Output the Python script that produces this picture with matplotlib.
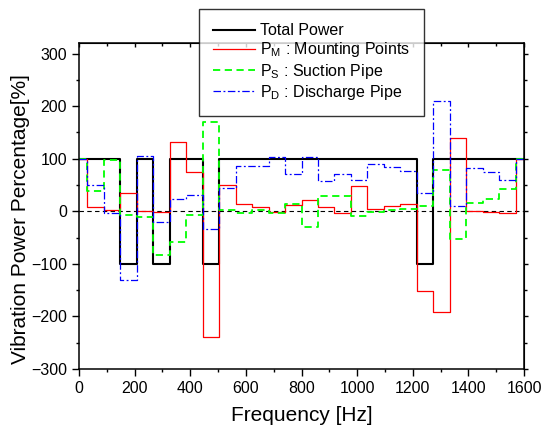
import numpy as np
import matplotlib
matplotlib.use("Agg")
from matplotlib import pyplot as plt
from matplotlib.ticker import MultipleLocator

plt.rcParams['font.family'] = ['Liberation Sans', 'DejaVu Sans']
plt.rcParams['mathtext.fontset'] = 'custom'
plt.rcParams['mathtext.rm'] = 'Liberation Sans'

# band centre frequencies (28 bands, 0..1600 Hz)
freq = np.linspace(0, 1600, 28)

total = [100, 100, 100, -100, 100, -100, 100, 100, -100,
         100, 100, 100, 100, 100, 100, 100, 100, 100, 100, 100, 100,
         -100, 100, 100, 100, 100, 100, 100]
p_m = [100, 9, 3, 34, 1, -1, 131, 74, -239, 50, 14, 8, -2, 12, 22, 9, -4,
       48, 4, 10, 13, -151, -192, 139, 0, -1, -4, 100]
p_s = [100, 38, 97, -8, -10, -83, -58, -8, 170, 3, -3, 2, -4, 13, -30, 29, 29,
       -9, -1, 2, 5, 10, 79, -53, 15, 23, 42, 100]
p_d = [100, 49, -3, -131, 105, -20, 23, 31, -34, 44, 86, 86, 103, 71, 103, 57,
       70, 59, 90, 84, 77, 35, 210, 10, 82, 75, 60, 100]

fig = plt.figure(figsize=(5.42, 4.29), dpi=100)
ax = fig.add_axes([79/542, 1-369/429, 445/542, 326/429])

ax.axhline(0, color='k', lw=0.8, dashes=(4, 3), zorder=1)
ax.plot(freq, total, drawstyle='steps-mid', color='k', lw=1.5, label='Total Power')
ax.plot(freq, p_m, drawstyle='steps-mid', color='#ff0000', lw=0.9,
        label=r'P$_\mathregular{M}$ : Mounting Points')
ax.plot(freq, p_s, drawstyle='steps-mid', color='#00ff00', lw=1.3, dashes=(4, 2.5),
        label=r'P$_\mathregular{S}$ : Suction Pipe')
ax.plot(freq, p_d, drawstyle='steps-mid', color='#0000ff', lw=0.9,
        dashes=(6, 2, 1.5, 2), label=r'P$_\mathregular{D}$ : Discharge Pipe')

ax.set_xlim(0, 1600)
ax.set_ylim(-300, 320)
ax.xaxis.set_major_locator(MultipleLocator(200))
ax.xaxis.set_minor_locator(MultipleLocator(100))
ax.yaxis.set_major_locator(MultipleLocator(100))
ax.yaxis.set_minor_locator(MultipleLocator(50))
ax.tick_params(which='both', direction='out', width=1, labelsize=11.5)
ax.tick_params(which='major', length=5)
ax.tick_params(which='minor', length=2.5)
for s in ax.spines.values():
    s.set_linewidth(1.1)

top = ax.secondary_xaxis('top')
top.xaxis.set_major_locator(MultipleLocator(200))
top.xaxis.set_minor_locator(MultipleLocator(100))
top.tick_params(which='both', direction='in', labeltop=False, width=1)
top.tick_params(which='major', length=3)
top.tick_params(which='minor', length=2)
right = ax.secondary_yaxis('right')
right.yaxis.set_major_locator(MultipleLocator(100))
right.yaxis.set_minor_locator(MultipleLocator(50))
right.tick_params(which='both', direction='out', labelright=False, width=1)
right.tick_params(which='major', length=3)
right.tick_params(which='minor', length=2)

ax.set_xlabel('Frequency [Hz]', fontsize=15, labelpad=7)
ax.set_ylabel('Vibration Power Percentage[%]', fontsize=15)
ax.yaxis.set_label_coords(-0.11, 0.46)

leg = fig.legend(loc='upper left', bbox_to_anchor=(199/542, 1-9/429), borderaxespad=0,
                 fontsize=11.5, frameon=True, fancybox=False, edgecolor='k',
                 handlelength=2.6, handletextpad=0.3, labelspacing=0.13,
                 borderpad=0.9)
leg.get_frame().set_linewidth(1.0)

fig.savefig('out.png', dpi=100)
